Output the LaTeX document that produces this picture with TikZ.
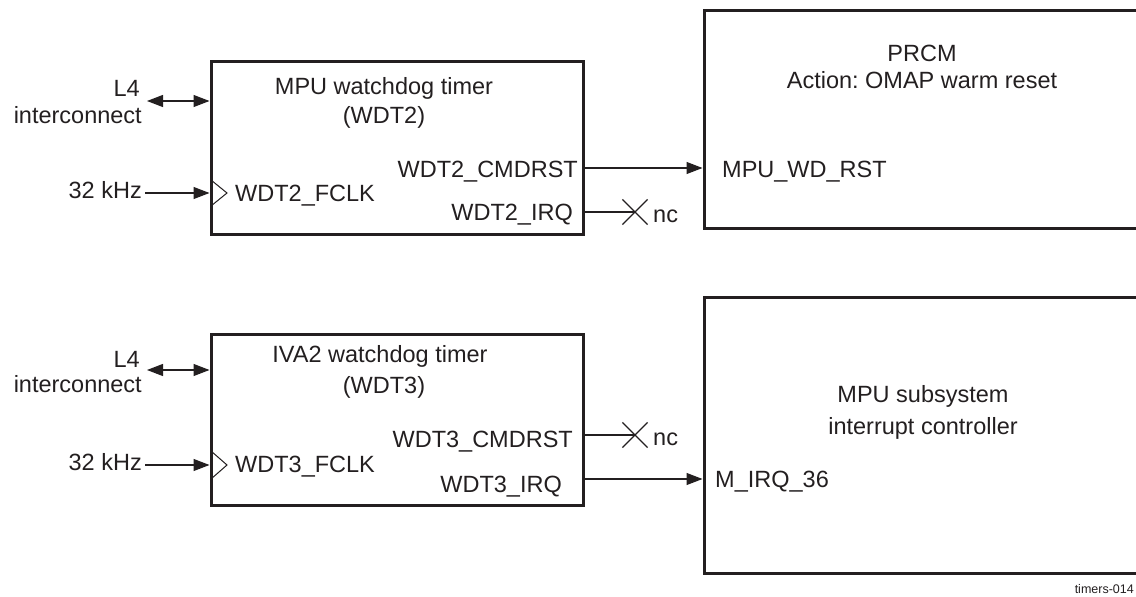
\documentclass[tikz,border=0pt]{standalone}
\usepackage{fontspec}
\setmainfont{Liberation Sans}
\usepackage{tikz}
\usetikzlibrary{arrows.meta,positioning,shapes.misc}
\definecolor{inkgray}{HTML}{231F20}
\frenchspacing

\begin{document}
\begin{tikzpicture}[x=1pt,y=-1pt,
  block/.style={draw=inkgray,line width=3pt,minimum width=372pt,inner sep=0pt},
  pin/.style={font=\fontsize{23.5}{28}\selectfont,text=inkgray,inner sep=0pt},
  arrow/.style={-{Triangle[length=16pt,width=12pt]},line width=1.2pt,color=inkgray},
  dblarrow/.style={{Triangle[length=16pt,width=12pt]}-{Triangle[length=16pt,width=12pt]},line width=1.2pt,color=inkgray},
  wire/.style={line width=1.2pt,color=inkgray},
  ncmark/.style={cross out,draw=inkgray,line width=1.2pt,minimum size=24pt,inner sep=0pt},
  clk/.style={line width=1pt,color=inkgray}
]
\useasboundingbox (0,0) rectangle (1136,597);
\clip (0,0) rectangle (1136,597);
% watchdog blocks
\node[block,minimum height=173pt] (wdt2) at (397,147.5) {};
\node[block,minimum height=171pt] (wdt3) at (397,419.5) {};
% targets, cut by the right edge
\node[block,minimum width=446pt,minimum height=218pt] (prcm) at (927,119) {};
\node[block,minimum width=446pt,minimum height=276pt] (intc) at (927,435) {};
% block titles
\node[pin,anchor=base] (t2a) at (384,94) {MPU watchdog timer};
\node[pin,anchor=base] (t2b) at (384,123) {(WDT2)};
\node[pin,anchor=base] (t3a) at (380,362) {IVA2 watchdog timer};
\node[pin,anchor=base] (t3b) at (384,393) {(WDT3)};
\node[pin,anchor=base] (pa) at (922,61) {PRCM};
\node[pin,anchor=base] (pb) at (922,88) {Action: OMAP warm reset};
\node[pin,anchor=base] (ia) at (923,402) {MPU subsystem};
\node[pin,anchor=base] (ib) at (923,434) {interrupt controller};
% port names
\node[pin,anchor=base west] (fclk2) at (235,201) {WDT2\_FCLK};
\node[pin,anchor=base east] (cmd2) at (578,177) {WDT2\_CMDRST};
\node[pin,anchor=base east] (irq2) at (573,220) {WDT2\_IRQ};
\node[pin,anchor=base west] (wdrst) at (722,177) {MPU\_WD\_RST};
\node[pin,anchor=base west] (fclk3) at (235,472) {WDT3\_FCLK};
\node[pin,anchor=base east] (cmd3) at (573,447) {WDT3\_CMDRST};
\node[pin,anchor=base east] (irq3) at (562,492) {WDT3\_IRQ};
\node[pin,anchor=base west] (mirq) at (715,487) {M\_IRQ\_36};
% inputs
\node[pin,anchor=base east] (l4a) at (140,96) {L4};
\node[pin,anchor=base east] (ic2) at (142,123) {interconnect};
\node[pin,anchor=base east] (khz2) at (142,198) {32 kHz};
\node[pin,anchor=base east] (l4b) at (140,367) {L4};
\node[pin,anchor=base east] (ic3) at (142,392) {interconnect};
\node[pin,anchor=base east] (khz3) at (142,470) {32 kHz};
\coordinate (bus2) at (147,101);
\coordinate (bus3) at (147,370);
\coordinate (in2) at (145,193);
\coordinate (in3) at (145,465);
\draw[dblarrow] (bus2) -- (bus2 -| wdt2.west);
\draw[dblarrow] (bus3) -- (bus3 -| wdt3.west);
\draw[arrow] (in2) -- (in2 -| wdt2.west);
\draw[arrow] (in3) -- (in3 -| wdt3.west);
\draw[clk] (in2 -| wdt2.west) ++(1.5,-13) -- ++(16,13) -- ++(-16,13);
\draw[clk] (in3 -| wdt3.west) ++(1.5,-14) -- ++(16,14) -- ++(-16,14);
% outputs
\coordinate (o2) at (0,168);
\coordinate (o3) at (0,479);
\draw[arrow] (wdt2.east |- o2) -- (prcm.west |- o2);
\draw[arrow] (wdt3.east |- o3) -- (intc.west |- o3);
\node[ncmark] (x2) at (635,212) {};
\node[ncmark] (x3) at (635,435) {};
\draw[wire] (wdt2.east |- x2) -- (x2.center);
\draw[wire] (wdt3.east |- x3) -- (x3.center);
\node[pin,anchor=base west] (nc2) at (653,222) {nc};
\node[pin,anchor=base west] (nc3) at (653,445) {nc};
\node[font=\fontsize{12.5}{14}\selectfont,text=inkgray,inner sep=0pt,anchor=base east] (fig) at (1134,593) {timers-014};
\end{tikzpicture}
\end{document}
